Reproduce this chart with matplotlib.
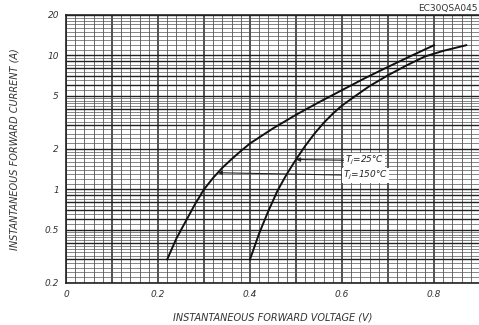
import numpy as np
import matplotlib
matplotlib.use("Agg")
import matplotlib.pyplot as plt

# Data
v_150 = [0.22, 0.24, 0.26, 0.28, 0.30, 0.32, 0.34, 0.36, 0.38, 0.40, 0.45, 0.50, 0.55, 0.60, 0.65, 0.70, 0.75, 0.80]
i_150 = [0.30, 0.43, 0.575, 0.77, 1.0, 1.22, 1.45, 1.68, 1.93, 2.2, 2.85, 3.6, 4.47, 5.5, 6.76, 8.2, 9.9, 11.9]
v_25 = [0.40, 0.42, 0.44, 0.46, 0.48, 0.50, 0.52, 0.54, 0.56, 0.58, 0.60, 0.63, 0.66, 0.70, 0.74, 0.78, 0.82, 0.87]
i_25 = [0.30, 0.47, 0.69, 0.98, 1.30, 1.67, 2.11, 2.60, 3.13, 3.67, 4.22, 5.0, 5.9, 7.1, 8.4, 9.8, 10.8, 11.9]

x_ticks = [0, 0.2, 0.4, 0.6, 0.8]
x_tick_labels = ["0", "0.2", "0.4", "0.6", "0.8"]
y_ticks = [0.2, 0.5, 1, 2, 5, 10, 20]
y_tick_labels = ["0.2", "0.5", "1", "2", "5", "10", "20"]

label_25 = r"$T_j$=25°C"
label_150 = r"$T_j$=150°C"
part_no = "EC30QSA045"
xlabel = "INSTANTANEOUS FORWARD VOLTAGE (V)"
ylabel = "INSTANTANEOUS FORWARD CURRENT (A)"

W, H = 479, 325
fig = plt.figure(figsize=(W / 100, H / 100), dpi=100)
ax = fig.add_axes([66 / W, 1 - 283 / H, (480 - 66) / W, (283 - 15) / H])
ax.set_yscale("log")
ax.set_xlim(0, 0.9)
ax.set_ylim(0.2, 20)

# Log-paper grid
grid_col = "#555555"
for xv in np.arange(0, 0.9001, 0.02):
    major = abs(xv * 10 - round(xv * 10)) < 1e-6
    ax.axvline(xv, color="#222222" if major else grid_col,
               lw=1.1 if major else 0.6, zorder=1)

ylines = []
for dec in [0.1, 1, 10]:
    ylines += list(np.arange(1, 2, 0.1) * dec)
    ylines += list(np.arange(2, 5, 0.2) * dec)
    ylines += list(np.arange(5, 10, 0.5) * dec)
for yv in ylines:
    if 0.2 - 1e-9 <= yv <= 20 + 1e-9:
        r = yv / 10 ** np.floor(np.log10(yv) + 1e-9)
        major = abs(r - round(r)) < 1e-6
        ax.axhline(yv, color="#222222" if major else grid_col,
                   lw=1.0 if major else 0.5, zorder=1)

ax.plot(v_150, i_150, color="#111111", lw=1.4, zorder=3)
ax.plot(v_25, i_25, color="#111111", lw=1.4, zorder=3)

txt_kw = dict(fontsize=6.5, fontstyle="italic", color="#222222",
              va="center", ha="left", zorder=5,
              bbox=dict(facecolor="white", edgecolor="none", pad=0.5))
arr = dict(arrowstyle="-|>", color="#222222", lw=0.8, mutation_scale=6,
           shrinkA=0, shrinkB=0)
ax.annotate(label_25, xy=(0.50, 1.67), xytext=(0.607, 1.64),
            arrowprops=arr, **txt_kw)
ax.annotate(label_150, xy=(0.33, 1.33), xytext=(0.602, 1.27),
            arrowprops=arr, **txt_kw)

ax.set_xticks(x_ticks)
ax.set_xticklabels(x_tick_labels)
ax.set_yticks(y_ticks)
ax.set_yticklabels(y_tick_labels)
ax.yaxis.set_minor_locator(matplotlib.ticker.NullLocator())
ax.tick_params(length=0, labelsize=6.5, colors="#333333", pad=5)
for lab in ax.get_xticklabels() + ax.get_yticklabels():
    lab.set_fontstyle("italic")

for s in ax.spines.values():
    s.set_color("#222222")
    s.set_linewidth(1.2)

ax.set_xlabel(xlabel, fontsize=7, fontstyle="italic", color="#333333", labelpad=10)
ax.set_ylabel(ylabel, fontsize=7, fontstyle="italic", color="#333333", labelpad=18)
fig.text(478 / W, 1 - 8 / H, part_no, fontsize=6.5, color="#333333",
         ha="right", va="center")

fig.savefig("out.png", dpi=100)
